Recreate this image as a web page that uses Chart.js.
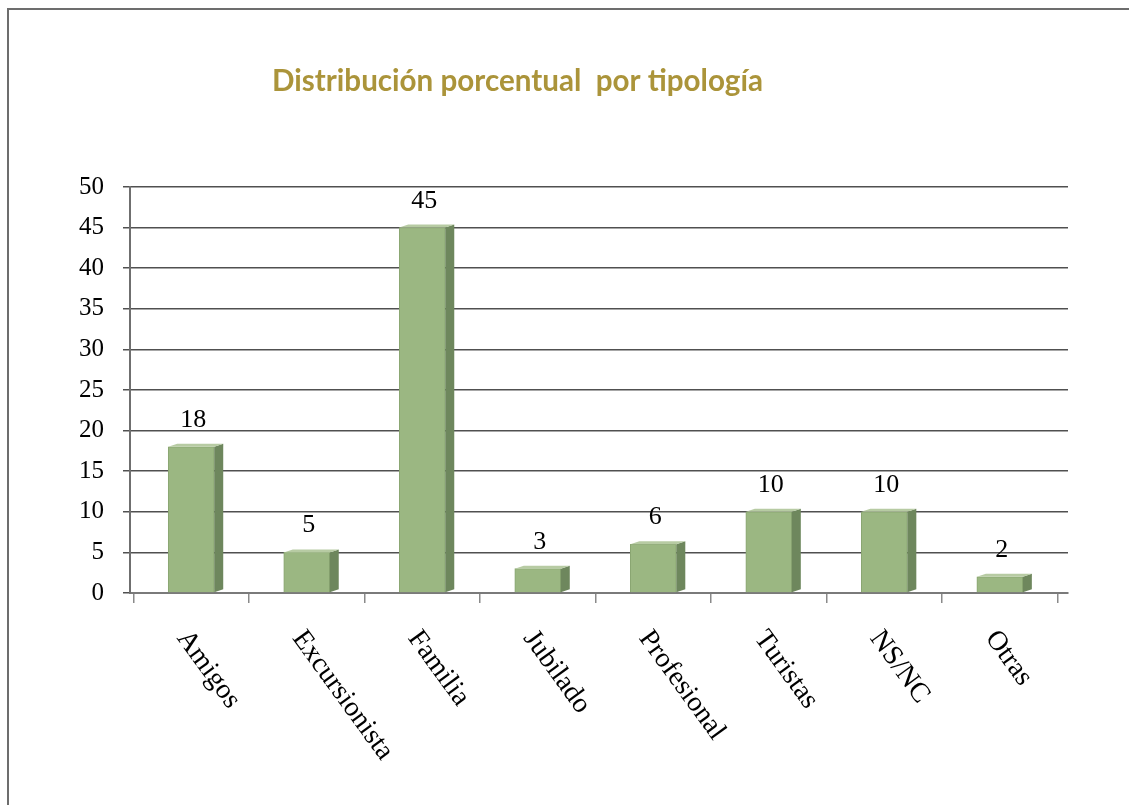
<!DOCTYPE html>
<html>
<head>
<meta charset="utf-8">
<script src="https://cdn.jsdelivr.net/npm/chart.js@4/dist/chart.umd.min.js"></script>
<style>
  html, body { margin: 0; padding: 0; background: #fff; }
  #wrap { position: relative; width: 1129px; height: 805px; }
</style>
</head>
<body>
<div id="wrap"><canvas id="chart" width="1129" height="805"></canvas></div>
<script>
const categories = ['Amigos', 'Excursionista', 'Familia', 'Jubilado', 'Profesional', 'Turistas', 'NS/NC', 'Otras'];
const percentages = [18, 5, 45, 3, 6, 10, 10, 2];
const yTickValues = [0, 5, 10, 15, 20, 25, 30, 35, 40, 45, 50];
const chartTitle = 'Distribución porcentual  por tipología';

const FRONT = '#9bb782';
const SIDE = '#6e875d';
const TOP = '#b7cba3';
const DEPTH = 9;
const LIFT = 3;

// white page with the grey frame (left and top edges visible)
const framePlugin = {
    id: 'frame',
    beforeDraw(chart) {
        const ctx = chart.ctx;
        ctx.save();
        ctx.fillStyle = '#fff';
        ctx.fillRect(0, 0, chart.width, chart.height);
        ctx.strokeStyle = '#6d6d6d';
        ctx.lineWidth = 2;
        ctx.beginPath();
        ctx.moveTo(8, chart.height);
        ctx.lineTo(8, 9);
        ctx.lineTo(chart.width, 9);
        ctx.stroke();
        ctx.restore();
    }
};

const titlePlugin = {
    id: 'squeezedTitle',
    afterDraw(chart) {
        const ctx = chart.ctx;
        ctx.save();
        ctx.font = 'bold 31px Lato, "Open Sans", sans-serif';
        const w = ctx.measureText(chartTitle).width;
        ctx.translate(272, 91);
        ctx.scale(491 / w, 1);
        ctx.fillStyle = '#ab943a';
        ctx.textAlign = 'left';
        ctx.textBaseline = 'alphabetic';
        ctx.fillText(chartTitle, 0, 0);
        ctx.restore();
    }
};

// fake 3D: side and top faces next to each bar
const bar3dPlugin = {
    id: 'bar3d',
    afterDatasetsDraw(chart) {
        const ctx = chart.ctx;
        const meta = chart.getDatasetMeta(0);
        ctx.save();
        meta.data.forEach(bar => {
            const half = bar.width / 2;
            const r = bar.x + half;
            const l = bar.x - half;
            ctx.fillStyle = SIDE;
            ctx.beginPath();
            ctx.moveTo(r, bar.y);
            ctx.lineTo(r + DEPTH, bar.y - LIFT);
            ctx.lineTo(r + DEPTH, bar.base - LIFT);
            ctx.lineTo(r, bar.base);
            ctx.closePath();
            ctx.fill();
            ctx.fillStyle = TOP;
            ctx.beginPath();
            ctx.moveTo(l, bar.y);
            ctx.lineTo(l + DEPTH, bar.y - LIFT);
            ctx.lineTo(r + DEPTH, bar.y - LIFT);
            ctx.lineTo(r, bar.y);
            ctx.closePath();
            ctx.fill();
        });
        ctx.restore();
    }
};

const valueLabelPlugin = {
    id: 'valueLabels',
    afterDatasetsDraw(chart) {
        const ctx = chart.ctx;
        const meta = chart.getDatasetMeta(0);
        ctx.save();
        ctx.font = '26px "Liberation Serif", serif';
        ctx.fillStyle = '#000';
        ctx.textAlign = 'center';
        ctx.textBaseline = 'alphabetic';
        meta.data.forEach((bar, i) => {
            ctx.fillText(String(percentages[i]), bar.x + 2, bar.y - 20);
        });
        ctx.restore();
    }
};

// category names, rotated clockwise and hanging down-right from each bar
const categoryLabelPlugin = {
    id: 'categoryLabels',
    afterDraw(chart) {
        const ctx = chart.ctx;
        const x = chart.scales.x;
        const angle = 54 * Math.PI / 180;
        ctx.save();
        ctx.font = '28px "Liberation Serif", serif';
        ctx.fillStyle = '#000';
        ctx.textAlign = 'left';
        ctx.textBaseline = 'alphabetic';
        categories.forEach((name, i) => {
            ctx.save();
            ctx.translate(x.getPixelForValue(i) - 15, chart.chartArea.bottom + 45);
            ctx.rotate(angle);
            ctx.fillText(name, 0, 0);
            ctx.restore();
        });
        ctx.restore();
    }
};

new Chart(document.getElementById('chart'), {
    type: 'bar',
    data: {
        datasets: [{
            data: percentages.map((v, i) => ({ x: i, y: v })),
            backgroundColor: FRONT,
            borderColor: '#8aa672',
            borderWidth: 1,
            barThickness: 46
        }]
    },
    options: {
        responsive: false,
        animation: false,
        layout: { padding: { left: 0, right: 61, top: 187, bottom: 200 } },
        plugins: { legend: { display: false }, tooltip: { enabled: false }, title: { display: false } },
        scales: {
            x: {
                type: 'linear',
                offset: false,
                min: -0.53,
                max: 7.59,
                afterBuildTicks: scale => {
                    scale.ticks = categories.concat(['']).map((_, i) => ({ value: i - 0.5 }));
                },
                afterFit: scale => { scale.height = 12; },
                ticks: { display: false },
                grid: { offset: false, drawOnChartArea: false, drawTicks: true, tickLength: 10, color: '#8a8a8a', lineWidth: 1.5 },
                border: { display: true, color: '#7a7a7a', width: 2 }
            },
            y: {
                min: 0,
                max: 50,
                afterBuildTicks: scale => {
                    scale.ticks = yTickValues.map(v => ({ value: v }));
                },
                afterFit: scale => { scale.width = 130; },
                ticks: {
                    color: '#000',
                    font: { family: '"Liberation Serif", serif', size: 25 },
                    padding: 19
                },
                grid: { color: '#505050', lineWidth: 1.5, tickLength: 7 },
                border: { display: true, color: '#6f6f6f', width: 2 }
            }
        }
    },
    plugins: [framePlugin, bar3dPlugin, valueLabelPlugin, categoryLabelPlugin, titlePlugin]
});
</script>
</body>
</html>
